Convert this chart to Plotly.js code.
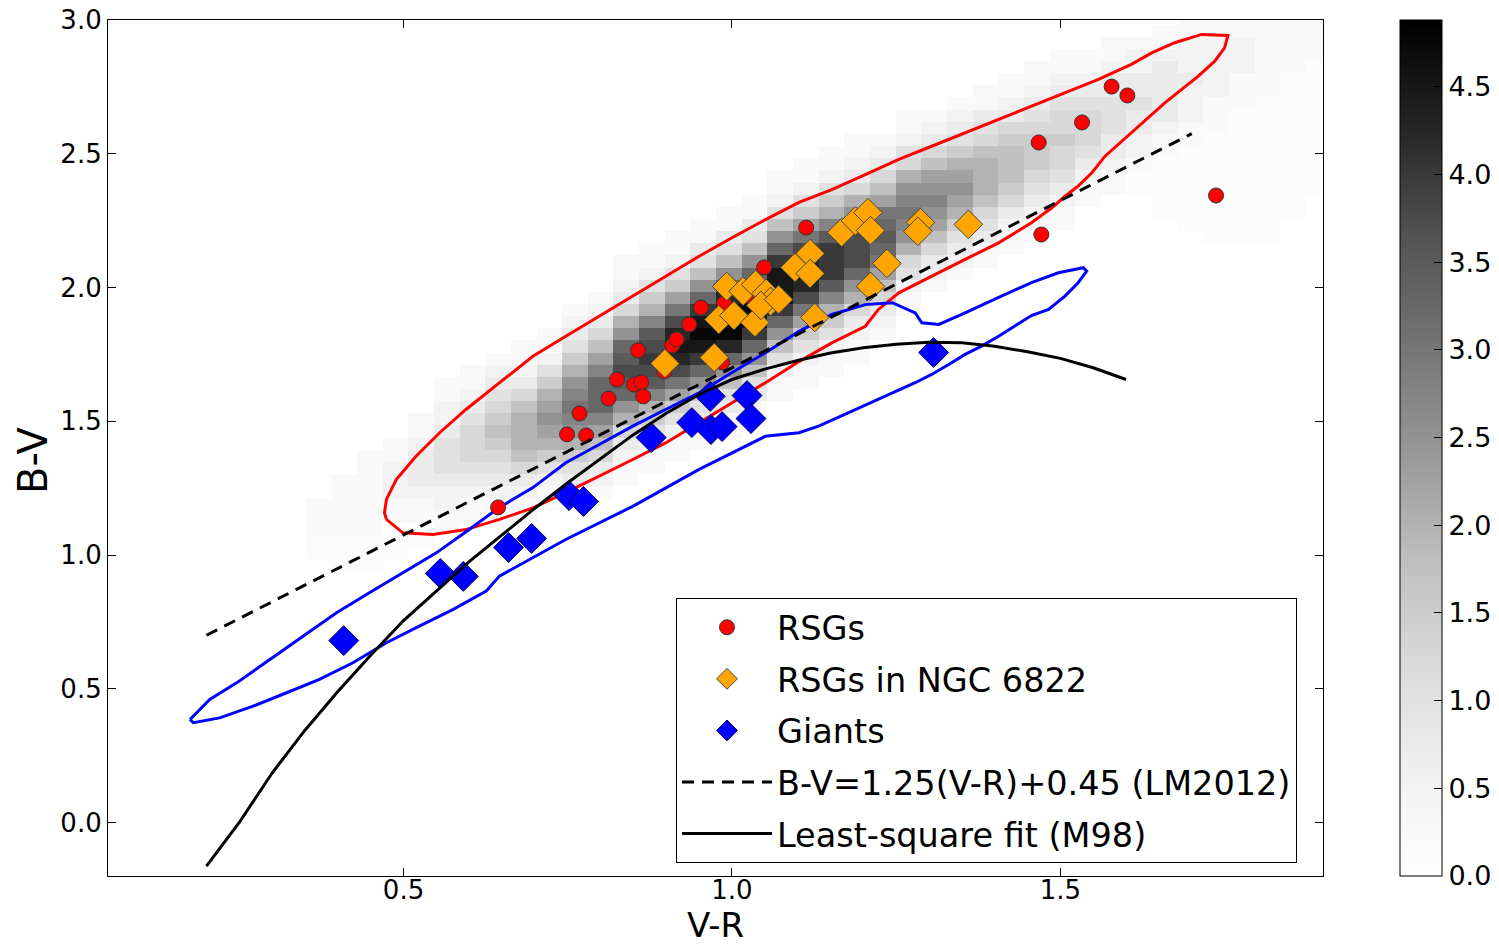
<!DOCTYPE html>
<html>
<head>
<meta charset="utf-8">
<script src="https://cdn.plot.ly/plotly-3.0.1.min.js"></script>
<style>html,body{margin:0;padding:0;background:#fff;}</style>
</head>
<body>
<div id="chart" style="width:1499px;height:946px;"></div>
<script>
// ---- density map (rows listed from top of plot downward; each char is a level:
//      '.' = faint 0.12, otherwise value = index in densityLevels * 0.25)
const densityLevels = "0123456789abcdefghijk";
const Z = "0000000000";
const densityRows = [
  Z+Z+Z+"0000111111",
  Z+Z+Z+"0001111111",
  Z+Z+Z+"0111222111",
  Z+Z+"0000000001"+"1122222111",
  Z+Z+"0000000011"+"122322211.",
  Z+Z+"0000000112"+"23333211..",
  Z+Z+"0000001123"+"33332211..",
  Z+Z+"0000011234"+"4443211...",
  Z+Z+"0001123345"+"543321....",
  Z+Z+"0001234555"+"543211....",
  Z+Z+"0112345666"+"53211.....",
  Z+Z+"1124567765"+"4321......",
  Z+"0000000001"+"1235788765"+"321.......",
  Z+"0000000011"+"2358998754"+"21........",
  Z+"0000000012"+"457aaa8643"+"11........",
  Z+"0000000124"+"689bb97532"+"100......0",
  Z+"0000001146"+"8acca85321"+"000......0",
  Z+"0000011379"+"bddb964211"+"0000....00",
  Z+"00001134ac"+"efea743110"+"00000...00",
  Z+"00011347df"+"gfd8531100"+Z,
  Z+"0011247agh"+"gfc5321000"+Z,
  Z+"001247adii"+"gd94210000"+Z,
  Z+"00246adgih"+"ea72100000"+Z,
  Z+"01369dhiif"+"b851000000"+Z,
  Z+"1258cgjjgc"+"8531000000"+Z,
  Z+"238bfikid9"+"6320000000"+Z,
  "0000000001"+"35aehjjga6"+"4210000000"+Z,
  "0000000011"+"47dfiihd74"+"2100000000"+Z,
  "0000000112"+"69eghgda42"+"1100000000"+Z,
  "0000001224"+"8bfffda721"+"1000000000"+Z,
  "0000011336"+"adeeca7411"+Z+Z,
  "0000012458"+"bddb974310"+Z+Z,
  "0000023579"+"cda8643100"+Z+Z,
  "000012468a"+"bb86431100"+Z+Z,
  "0000135789"+"a954211000"+Z+Z,
  "0001245688"+"8732110000"+Z+Z,
  "0011345576"+"6521100000"+Z+Z,
  "0012344454"+"4311000000"+Z+Z,
  "0112333332"+"3210000000"+Z+Z,
  "0112222221"+"2100000000"+Z+Z,
  "1111121111"+"1000000000"+Z+Z,
  "1111111010"+Z+Z+Z,
  "1110010000"+Z+Z+Z,
  "....."+"00000"+Z+Z+Z,
  "...."+"000000"+Z+Z+Z,
  "0..0000000"+Z+Z+Z,
  Z+Z+Z+Z, Z+Z+Z+Z, Z+Z+Z+Z, Z+Z+Z+Z,
  Z+Z+Z+Z, Z+Z+Z+Z, Z+Z+Z+Z, Z+Z+Z+Z
];

// ---- RSGs (red circles)
const rsgX = [0.644,0.749,0.768,0.778,0.812,0.825,0.851,0.862,0.865,0.857,0.897,0.909,0.916,0.935,0.953,0.988,0.985,1.029,1.049,1.113,1.467,1.533,1.578,1.602,1.471,1.737];
const rsgY = [1.178,1.451,1.529,1.447,1.585,1.656,1.637,1.645,1.593,1.765,1.686,1.783,1.806,1.862,1.925,1.940,1.720,1.966,2.075,2.224,2.542,2.617,2.751,2.718,2.198,2.344];

// ---- RSGs in NGC 6822 (orange diamonds)
const ngcX = [0.898,0.973,0.980,1.003,0.992,1.017,1.036,1.052,1.059,1.035,1.044,1.071,1.096,1.119,1.119,1.126,1.167,1.188,1.207,1.211,1.236,1.211,1.287,1.283,1.360];
const ngcY = [1.716,1.738,1.880,1.895,2.004,1.986,2.011,1.978,1.948,1.869,1.933,1.955,2.075,2.127,2.052,1.888,2.206,2.249,2.280,2.213,2.090,2.004,2.243,2.210,2.236];

// ---- Giants (blue diamonds)
const giantX = [0.409,0.556,0.591,0.660,0.695,0.752,0.774,0.877,0.939,0.967,0.968,0.985,1.023,1.029,1.307];
const giantY = [0.680,0.931,0.920,1.028,1.062,1.222,1.200,1.439,1.495,1.593,1.469,1.480,1.596,1.510,1.757];

// ---- LM2012 relation end points
const lmX = [0.2, 1.7];
const lmY = [0.70, 2.575];

// ---- M98 least-square fit curve
const m98X = [0.20,0.25,0.30,0.35,0.40,0.45,0.50,0.55,0.60,0.65,0.70,0.75,0.80,0.85,0.90,0.95,1.00,1.05,1.10,1.15,1.20,1.25,1.30,1.35,1.40,1.45,1.50,1.55,1.60];
const m98Y = [-0.163,0.000,0.185,0.345,0.490,0.625,0.755,0.865,0.975,1.075,1.175,1.270,1.360,1.450,1.530,1.600,1.656,1.695,1.727,1.755,1.775,1.788,1.795,1.793,1.780,1.760,1.735,1.700,1.656];

// ---- red contour
const redX = [0.474,0.471,0.474,0.489,0.519,0.555,0.595,0.646,0.697,0.747,0.798,0.849,0.899,0.950,1.000,1.051,1.102,1.152,1.203,1.254,1.304,1.355,1.406,1.456,1.507,1.558,1.608,1.639,1.674,1.715,1.755,
              1.750,1.735,1.710,1.659,1.608,1.568,1.548,1.527,1.507,1.487,1.456,1.406,1.355,1.304,1.254,1.223,1.203,1.152,1.102,1.051,1.000,0.950,0.899,0.849,0.798,0.747,0.697,0.646,0.595,0.545,0.499,0.474];
const redY = [1.133,1.158,1.208,1.282,1.369,1.457,1.544,1.644,1.743,1.818,1.893,1.966,2.042,2.117,2.186,2.254,2.318,2.366,2.422,2.479,2.528,2.578,2.628,2.678,2.728,2.778,2.834,2.877,2.915,2.946,2.942,
              2.896,2.846,2.790,2.690,2.578,2.491,2.429,2.379,2.341,2.298,2.242,2.167,2.105,2.042,1.980,1.918,1.855,1.793,1.723,1.644,1.569,1.494,1.419,1.357,1.295,1.233,1.176,1.133,1.095,1.077,1.083,1.133];

// ---- blue contour
const blueX = [0.175,0.205,0.246,0.296,0.347,0.398,0.448,0.499,0.550,0.600,0.646,0.697,0.747,0.798,0.849,0.899,0.950,1.000,1.051,1.102,1.152,1.203,1.244,1.279,1.289,1.315,1.355,1.406,1.456,1.497,1.535,1.540,
               1.527,1.507,1.482,1.456,1.431,1.406,1.380,1.355,1.330,1.304,1.279,1.228,1.178,1.132,1.102,1.051,0.950,0.849,0.747,0.646,0.626,0.575,0.524,0.474,0.423,0.372,0.322,0.271,0.220,0.180,0.175];
const blueY = [0.385,0.460,0.522,0.609,0.696,0.784,0.859,0.933,1.008,1.095,1.178,1.252,1.345,1.413,1.482,1.544,1.606,1.682,1.756,1.836,1.899,1.936,1.943,1.905,1.868,1.862,1.905,1.963,2.018,2.055,2.074,2.061,
               2.018,1.968,1.918,1.895,1.855,1.818,1.781,1.750,1.712,1.675,1.644,1.588,1.532,1.482,1.457,1.444,1.320,1.182,1.058,0.921,0.865,0.796,0.734,0.672,0.597,0.535,0.485,0.435,0.391,0.373,0.385];

const cbTicks = [0,0.5,1,1.5,2,2.5,3,3.5,4,4.5];
const axisTicksX = [0.5,1.0,1.5];
const axisTicksY = [0.0,0.5,1.0,1.5,2.0,2.5,3.0];
const xTitle = 'V-R';
const yTitle = 'B-V';

// ---- build
const zGrid = densityRows.slice().reverse().map(s => s.split('').map(ch => ch === '.' ? 0.12 : densityLevels.indexOf(ch) * 0.25));
const FONT = 'DejaVu Sans, sans-serif';
const W = 1499, H = 946;
const plotL = 108, plotR = 1324, plotT = 20, plotB = 876;

const greys = [[0,'#ffffff'],[0.125,'#f0f0f0'],[0.25,'#d9d9d9'],[0.375,'#bdbdbd'],[0.5,'#969696'],
               [0.625,'#737373'],[0.75,'#525252'],[0.875,'#252525'],[1,'#000000']];

const traces = [
  {type:'heatmap', z:zGrid, x0:0.3706, dx:0.03906, y0:0.6004, dy:0.04538,
   zmin:0, zmax:4.88, colorscale:greys, zsmooth:false, showscale:true, hoverinfo:'skip',
   colorbar:{thickness:42, thicknessmode:'pixels', len:(plotB-plotT)/H, lenmode:'fraction',
     x:1400/W, xanchor:'left', y:1-(plotT+plotB)/2/H, yanchor:'middle', ypad:0, xpad:0,
     outlinecolor:'#000', outlinewidth:1,
     ticks:'inside', ticklen:8, tickcolor:'#000', tickvals:cbTicks, ticktext:cbTicks.map(v=>v.toFixed(1)),
     tickfont:{family:FONT, size:27, color:'#000'}}},
  {type:'scatter', mode:'lines', x:redX, y:redY, line:{color:'#ff0000', width:3}, showlegend:false, hoverinfo:'skip'},
  {type:'scatter', mode:'lines', x:blueX, y:blueY, line:{color:'#0000ff', width:3}, showlegend:false, hoverinfo:'skip'},
  {type:'scatter', mode:'markers', name:'RSGs', legendgroup:'a', x:rsgX, y:rsgY,
   marker:{symbol:'circle', size:15, color:'#ff0000', line:{color:'#333', width:1}}},
  {type:'scatter', mode:'markers', name:'RSGs in NGC 6822', legendgroup:'b', x:ngcX, y:ngcY,
   marker:{symbol:'diamond', size:22, color:'#ffa500', line:{color:'#444', width:1}}},
  {type:'scatter', mode:'markers', name:'Giants', legendgroup:'c', x:giantX, y:giantY,
   marker:{symbol:'diamond', size:23, color:'#0000ff', line:{color:'#000066', width:1}}},
  {type:'scatter', mode:'lines', name:'B-V=1.25(V-R)+0.45 (LM2012)', legendgroup:'d', x:lmX, y:lmY,
   line:{color:'#000', width:3, dash:'12px,8px'}},
  {type:'scatter', mode:'lines', name:'Least-square fit (M98)', legendgroup:'e', x:m98X, y:m98Y,
   line:{color:'#000', width:3}}
];

const axisCommon = {showline:true, linecolor:'#000', linewidth:1, mirror:'allticks', ticks:'inside',
  ticklen:8, tickcolor:'#000', showgrid:false, zeroline:false, automargin:false,
  tickfont:{family:FONT, size:26, color:'#000'}};

const layout = {
  width:W, height:H,
  margin:{l:0, r:0, t:0, b:0, pad:0},
  paper_bgcolor:'#fff', plot_bgcolor:'#fff',
  font:{family:FONT, color:'#000'},
  xaxis:Object.assign({}, axisCommon, {domain:[plotL/W, plotR/W], range:[0.05,1.9],
    tickvals:axisTicksX, ticktext:axisTicksX.map(v=>v.toFixed(1)), ticklabelstandoff:-9}),
  yaxis:Object.assign({}, axisCommon, {domain:[1-plotB/H, 1-plotT/H], range:[-0.2,3.0],
    tickvals:axisTicksY, ticktext:axisTicksY.map(v=>v.toFixed(1))}),
  annotations:[
    {text:xTitle, xref:'paper', yref:'paper', x:716/W, y:1-946/H, xanchor:'center', yanchor:'bottom',
     showarrow:false, borderpad:0, font:{family:FONT, size:34, color:'#000'}},
    {text:yTitle, xref:'paper', yref:'paper', x:33/W, y:1-460/H, xanchor:'center', yanchor:'middle',
     textangle:-90, showarrow:false, font:{family:FONT, size:40, color:'#000'}}
  ],
  showlegend:true,
  legend:{x:676/W, y:1-598/H, xanchor:'left', yanchor:'top', bgcolor:'#fff', bordercolor:'#000', borderwidth:1,
    font:{family:FONT, size:33.5, color:'#000'}, traceorder:'grouped', tracegroupgap:5, itemwidth:90},
  hovermode:false
};

Plotly.newPlot('chart', traces, layout, {staticPlot:true, displayModeBar:false});
</script>
</body>
</html>
